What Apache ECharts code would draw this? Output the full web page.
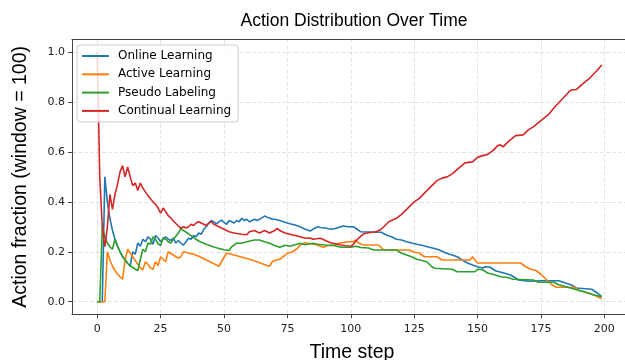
<!DOCTYPE html>
<html>
<head>
<meta charset="utf-8">
<script src="https://cdn.jsdelivr.net/npm/echarts@6/dist/echarts.min.js"></script>
<style>
  html, body { margin: 0; padding: 0; background: #fff; }
  #chart { width: 625px; height: 360px; }
</style>
</head>
<body>
<div id="chart"></div>
<script>
// values, [time step, fraction]
const online = [
  [0,0],[2,0],[3,0.5],[4,0.4],[5,0.333],[6,0.286],[7,0.25],[8,0.222],[9,0.2],[10,0.18],[11,0.167],[12,0.154],[13,0.143],
  [14,0.2],[15,0.19],[16,0.235],[17,0.222],[18,0.25],[19,0.24],[20,0.26],[21,0.25],[22,0.23],[23,0.265],[24,0.255],
  [25,0.24],[26,0.25],[27,0.26],[28,0.25],[29,0.245],[30,0.255],[31,0.235],[32,0.245],[33,0.235],[34,0.227],[35,0.24],
  [36,0.254],[37,0.25],[38,0.265],[39,0.26],[40,0.275],[41,0.27],[42,0.29],[43,0.3],[44,0.315],[45,0.325],[46,0.32],
  [47,0.312],[48,0.32],[49,0.327],[50,0.318],[51,0.31],[52,0.325],[53,0.32],[54,0.315],[55,0.325],[56,0.32],[57,0.334],
  [58,0.325],[59,0.33],[60,0.32],[61,0.325],[62,0.33],[63,0.325],[64,0.33],[66,0.343],[67,0.338],[68,0.335],[69,0.33],
  [70,0.33],[72,0.325],[74,0.318],[76,0.312],[78,0.307],[80,0.3],[82,0.29],[84,0.283],[85,0.29],[87,0.3],[88,0.297],
  [90,0.295],[92,0.29],[94,0.293],[96,0.3],[97,0.303],[99,0.3],[101,0.3],[103,0.287],[104,0.28],[112,0.278],[114,0.267],
  [116,0.26],[118,0.25],[120,0.247],[122,0.24],[124,0.235],[126,0.23],[128,0.226],[131,0.218],[133,0.213],[135,0.207],
  [137,0.197],[139,0.19],[142,0.18],[144,0.167],[146,0.155],[148,0.147],[150,0.14],[152,0.135],[153,0.14],[155,0.138],
  [157,0.124],[160,0.116],[163,0.107],[165,0.095],[166,0.087],[170,0.082],[175,0.084],[182,0.084],[185,0.074],
  [187,0.067],[189,0.055],[195,0.05],[197,0.036],[199,0.02]
];
const active = [
  [0,0],[3,0],[4,0.2],[5,0.167],[6,0.143],[7,0.125],[8,0.111],[9,0.1],[10,0.09],[11,0.167],[12,0.21],[13,0.195],
  [14,0.18],[15,0.165],[16,0.15],[17,0.135],[18,0.128],[19,0.16],[20,0.15],[21,0.135],[22,0.13],[23,0.16],[24,0.145],
  [25,0.18],[26,0.17],[27,0.16],[28,0.2],[29,0.193],[30,0.187],[31,0.18],[32,0.175],[33,0.18],[34,0.2],[36,0.195],
  [38,0.19],[40,0.182],[42,0.172],[44,0.162],[46,0.152],[48,0.142],[49,0.16],[50,0.178],[51,0.194],[53,0.19],
  [55,0.184],[58,0.176],[61,0.167],[64,0.156],[67,0.145],[68,0.142],[69,0.16],[70,0.165],[72,0.17],[73,0.178],
  [75,0.194],[77,0.2],[79,0.214],[80,0.227],[82,0.236],[84,0.232],[87,0.227],[89,0.218],[91,0.225],[93,0.225],
  [95,0.233],[97,0.237],[99,0.24],[101,0.24],[102,0.247],[103,0.235],[105,0.227],[111,0.227],[113,0.207],[123,0.207],
  [125,0.198],[127,0.195],[129,0.18],[134,0.18],[136,0.167],[147,0.167],[148,0.18],[150,0.155],[167,0.155],[169,0.14],
  [171,0.13],[173,0.125],[175,0.11],[177,0.09],[179,0.07],[181,0.058],[188,0.058],[190,0.045],[194,0.034],[197,0.022],
  [199,0.012]
];
const pseudo = [
  [0,0],[1,0],[2,0.3],[3,0.26],[4,0.235],[5,0.22],[6,0.21],[7,0.25],[8,0.222],[9,0.2],[10,0.182],[11,0.167],[12,0.154],
  [13,0.143],[14,0.138],[15,0.13],[16,0.125],[17,0.17],[18,0.21],[19,0.2],[20,0.235],[21,0.23],[22,0.26],[23,0.25],
  [24,0.232],[25,0.225],[26,0.256],[27,0.25],[28,0.24],[29,0.235],[30,0.25],[31,0.262],[32,0.275],[33,0.293],[34,0.285],
  [36,0.272],[38,0.257],[40,0.243],[42,0.234],[44,0.226],[46,0.219],[48,0.213],[50,0.208],[52,0.205],[53,0.22],
  [55,0.235],[57,0.234],[59,0.24],[62,0.247],[64,0.247],[66,0.24],[68,0.234],[70,0.225],[72,0.218],[74,0.226],
  [76,0.222],[78,0.228],[80,0.234],[82,0.228],[85,0.234],[87,0.23],[90,0.227],[93,0.226],[96,0.218],[100,0.218],
  [102,0.222],[104,0.217],[107,0.215],[109,0.207],[118,0.207],[120,0.194],[122,0.187],[124,0.18],[126,0.17],[128,0.165],
  [130,0.16],[132,0.14],[133,0.134],[140,0.13],[142,0.12],[149,0.12],[150,0.13],[152,0.128],[154,0.115],[157,0.107],
  [159,0.1],[162,0.097],[164,0.09],[172,0.087],[174,0.078],[180,0.078],[182,0.068],[187,0.054],[192,0.04],[196,0.027],
  [199,0.02]
];
const continual = [
  [0,1.0],[1,0.5],[2,0.3],[3,0.22],[4,0.3],[5,0.43],[6,0.37],[7,0.43],[8,0.47],[9,0.52],[10,0.545],[11,0.5],[12,0.54],
  [13,0.5],[14,0.465],[15,0.475],[16,0.445],[17,0.475],[18,0.455],[19,0.44],[20,0.425],[21,0.412],[22,0.4],[23,0.39],
  [24,0.375],[25,0.355],[26,0.375],[27,0.36],[28,0.345],[29,0.335],[30,0.323],[31,0.313],[32,0.303],[33,0.294],
  [34,0.3],[35,0.295],[36,0.3],[37,0.31],[38,0.305],[39,0.315],[40,0.32],[41,0.315],[42,0.31],[43,0.305],[44,0.315],
  [45,0.32],[46,0.31],[48,0.3],[50,0.29],[52,0.28],[54,0.275],[57,0.27],[59,0.268],[60,0.28],[62,0.285],[64,0.275],
  [66,0.285],[68,0.275],[70,0.285],[71,0.294],[72,0.285],[74,0.275],[76,0.27],[78,0.265],[80,0.26],[82,0.254],
  [84,0.255],[85,0.25],[88,0.254],[90,0.245],[92,0.236],[94,0.232],[96,0.227],[98,0.224],[100,0.222],[101,0.23],
  [103,0.254],[105,0.272],[107,0.276],[110,0.28],[112,0.29],[113,0.3],[115,0.32],[118,0.334],[120,0.35],[122,0.37],
  [125,0.4],[127,0.414],[130,0.445],[132,0.465],[134,0.485],[136,0.495],[138,0.5],[140,0.512],[142,0.53],[145,0.556],
  [148,0.56],[150,0.578],[152,0.585],[154,0.59],[156,0.605],[158,0.625],[159,0.628],[160,0.62],[162,0.64],[165,0.665],
  [168,0.668],[170,0.688],[172,0.7],[175,0.725],[178,0.75],[180,0.775],[183,0.808],[186,0.84],[187,0.848],[189,0.85],
  [191,0.868],[194,0.893],[197,0.925],[199,0.948]
];

const seriesNames = ['Online Learning', 'Active Learning', 'Pseudo Labeling', 'Continual Learning'];
const seriesColors = ['#1f77b4', '#ff7f0e', '#2ca02c', '#d62728'];
const xTicks = [0, 25, 50, 75, 100, 125, 150, 175, 200];
const yTicks = [0, 0.2, 0.4, 0.6, 0.8, 1.0];

const chart = echarts.init(document.getElementById('chart'), null, {renderer: 'canvas'});

const gridLine = {show: true, lineStyle: {color: '#dcdcdc', width: 0.8, type: [4, 2]}};
const frame = '#444';
const xMin = -9.95, xMax = 210.9;

const option = {
    animation: false,
    backgroundColor: '#fff',
    title: {
        text: 'Action Distribution Over Time',
        left: 349,
        top: 7,
        textAlign: 'center',
        textStyle: {fontFamily: 'Liberation Sans', fontSize: 17.5, fontWeight: 'normal', color: '#000'}
    },
    legend: {
        data: seriesNames,
        orient: 'vertical',
        left: 77,
        top: 45,
        icon: 'rect',
        itemWidth: 27,
        itemHeight: 2,
        itemGap: 4.3,
        padding: [4, 7, 4, 5],
        backgroundColor: 'rgba(255,255,255,0.8)',
        borderColor: '#ccc',
        borderWidth: 1,
        borderRadius: 3,
        textStyle: {fontFamily: 'DejaVu Sans', fontSize: 12, color: '#000', lineHeight: 14, padding: [0, 0, 0, 4]}
    },
    // the plot box runs past the right edge of the picture, as in the reference
    grid: {
        left: 72,
        top: 39.5,
        width: 560,
        height: 274.7,
        show: false,
        containLabel: false,
        outerBoundsMode: 'none'
    },
    xAxis: [{
        type: 'value',
        min: xMin,
        max: xMax,
        name: 'Time step',
        nameLocation: 'middle',
        nameGap: 28,
        nameTextStyle: {fontFamily: 'Liberation Sans', fontSize: 19.5, color: '#000'},
        axisLine: {show: true, onZero: false, lineStyle: {color: frame, width: 1}},
        axisTick: {show: true, length: 4, customValues: xTicks, lineStyle: {color: frame}},
        axisLabel: {customValues: xTicks, margin: 9, fontFamily: 'DejaVu Sans', fontSize: 11, color: '#222'},
        splitLine: gridLine
    }, {
        // top edge of the frame only
        type: 'value',
        position: 'top',
        min: xMin,
        max: xMax,
        axisLine: {show: true, onZero: false, lineStyle: {color: frame, width: 1}},
        axisTick: {show: false},
        axisLabel: {show: false},
        splitLine: {show: false}
    }],
    yAxis: {
        type: 'value',
        min: -0.05,
        max: 1.05,
        name: 'Action fraction (window = 100)',
        nameLocation: 'middle',
        nameGap: 41,
        nameTextStyle: {fontFamily: 'Liberation Sans', fontSize: 19.5, color: '#000'},
        axisLine: {show: true, onZero: false, lineStyle: {color: frame, width: 1}},
        axisTick: {show: true, length: 4, customValues: yTicks, lineStyle: {color: frame}},
        axisLabel: {
            customValues: yTicks, margin: 7, fontFamily: 'DejaVu Sans', fontSize: 11, color: '#222',
            formatter: v => v.toFixed(1)
        },
        splitLine: gridLine
    },
    series: [online, active, pseudo, continual].map((d, i) => ({
        name: seriesNames[i],
        type: 'line',
        data: d,
        showSymbol: false,
        symbol: 'none',
        color: seriesColors[i],
        lineStyle: {width: 1.6, color: seriesColors[i]}
    }))
};

chart.setOption(option);
</script>
</body>
</html>
